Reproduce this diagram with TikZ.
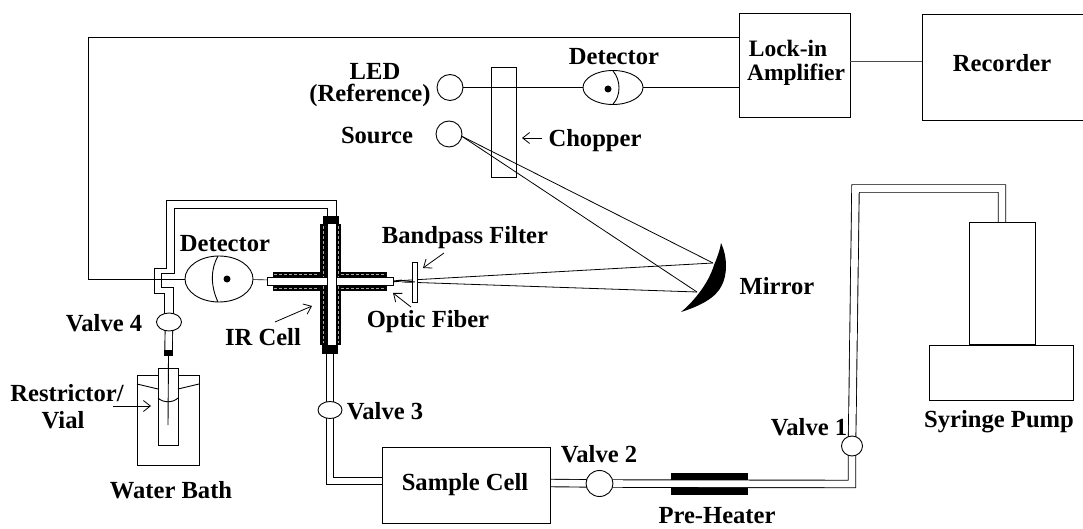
\documentclass[tikz,border=0pt]{standalone}
\usepackage{fontspec}
\setmainfont{Liberation Serif}
\usetikzlibrary{shapes.geometric,arrows.meta,backgrounds}
\tikzset{
  ink/.style={line width=0.9pt,black},
  lbl/.style={font=\fontsize{24.6}{28}\selectfont\bfseries,inner sep=0pt,align=center,text=black},
  lblsmall/.style={lbl,font=\fontsize{23.5}{28}\selectfont\bfseries},
  boxn/.style={draw,ink,fill=white,rectangle,inner sep=0pt,outer sep=0pt},
  valve/.style={draw,ink,fill=white,ellipse,inner sep=0pt,outer sep=0pt},
  blackn/.style={fill=black,rectangle,inner sep=0pt,outer sep=0pt},
  sleeve/.style={blackn},
  whitetube/.style={boxn},
  tube/.style={draw=black,line width=0.9pt,double=white,double distance=6.6pt,line join=miter},
  pointer/.style={ink,line width=0.8pt,-{Straight Barb[length=7pt,width=11pt]}},
  speck/.style={draw=black!35,line width=1pt,dash pattern=on 3pt off 2pt},
}
\begin{document}
\begin{tikzpicture}[x=1pt,y=-1pt]
\useasboundingbox (0,0) rectangle (1083,529);

% main boxes
\node[boxn,minimum width=111pt,minimum height=104pt] (lockin) at (794.5,65) {};
\node[boxn,minimum width=166pt,minimum height=106pt] (recorder) at (1005,67) {};
\node[lblsmall] at (788,48) (lockinA) {Lock-in};
\node[lblsmall] at (796,75) (lockinB) {Amplifier};
\node[lbl] at (1002,63) (recorderT) {Recorder};

% chopper
\node[draw,ink,rectangle,inner sep=0pt,outer sep=0pt,minimum width=25pt,minimum height=110pt] (chopper) at (503.5,122) {};
% reference branch
\node[valve,minimum width=26pt,minimum height=26pt] (led) at (450,87.5) {};
\node[valve,minimum width=26pt,minimum height=26pt] (source) at (449,134) {};
\node[valve,minimum width=60pt,minimum height=34pt] (det2) at (613,87.5) {};
\draw[ink] (613,71) .. controls (621,80) and (621,96) .. (613,104);
\fill (608,89) circle (3.5pt);
\draw[ink] (led) -- (det2);
\draw[ink] (det2) -- (lockin.west|-det2);

% mirror and rays
\fill[black] (721,243) .. controls (728,258) and (727,275) .. (722,285)
  .. controls (716,298) and (700,306) .. (681,312)
  .. controls (692,303) and (708,285) .. (714,265)
  .. controls (717,258) and (720,250) .. (721,243) -- cycle;
\coordinate (mirA) at (713,263);
\coordinate (mirB) at (697,292);
\coordinate (fibreA) at (402,280.5);
\coordinate (fibreB) at (402,282);
\draw[ink,line width=0.8pt] (source.-10) -- (mirA);
\draw[ink,line width=0.8pt] (source.-10) -- (mirB);
\draw[ink,line width=0.8pt] (fibreA) -- (mirA);
\draw[ink,line width=0.8pt] (fibreB) -- (mirB);

% filter
\node[boxn,minimum width=4.5pt,minimum height=40pt] (filter) at (415,282) {};
\draw[line width=1.8pt] (393,281.5) -- (fibreA);
\draw[ink] (fibreA) -- (filter.center);

% IR cell
\node[sleeve,minimum width=47pt,minimum height=5pt] (sA) at (296.5,274.5) {};
\node[sleeve,minimum width=47pt,minimum height=6pt] (sB) at (296.5,288) {};
\node[sleeve,minimum width=47pt,minimum height=5pt] (sC) at (363.5,274.5) {};
\node[sleeve,minimum width=47pt,minimum height=6pt] (sD) at (363.5,288) {};
\node[sleeve,minimum width=7.5pt,minimum height=120pt] (sE) at (323.5,284.5) {};
\node[sleeve,minimum width=5pt,minimum height=120pt] (sF) at (338.5,284.5) {};
\draw[speck] (323.5,226) -- (323.5,343);
\draw[speck,line width=.8pt] (338.5,226) -- (338.5,343);
\draw[speck] (274,274.5) -- (319,274.5);
\draw[speck] (341,274.5) -- (386,274.5);
\draw[speck] (274,288) -- (319,288);
\draw[speck] (341,288) -- (386,288);
\node[whitetube,minimum width=126pt,minimum height=8pt] (cellH) at (330,281) {};
\node[whitetube,minimum width=9pt,minimum height=122pt] (cellV) at (331.5,284.5) {};
\node[blackn,minimum width=16pt,minimum height=8pt] (capT) at (331,220) {};
\node[blackn,minimum width=16pt,minimum height=9pt] (capB) at (330,349.5) {};

% detector
\node[valve,minimum width=68pt,minimum height=46pt] (det1) at (219,279) {};
\draw[ink] (218,256) .. controls (211,268) and (210,285) .. (218,302);
\fill (227,279) circle (3.5pt);
\draw[ink,line width=0.6pt] (det1) -- (cellH);
\coordinate (sigA) at (88,279);
\coordinate (sigB) at (88,37);
\draw[ink,line width=0.8pt] (det1.west) -- (sigA) -- (sigB) -- (lockin.west|-sigB);
\draw[ink,line width=0.5pt,black!70] (lockin.east|-0,61) -- (recorder.west|-0,61);

% valves
\node[valve,minimum width=25pt,minimum height=18pt] (valve4) at (169,322) {};
\node[valve,minimum width=24pt,minimum height=17pt] (valve3) at (330,410) {};
\node[valve,minimum width=27pt,minimum height=26pt] (valve2) at (599.5,483.5) {};
\node[valve,minimum width=21pt,minimum height=20pt] (valve1) at (852,446) {};

% vial and bath
\node[boxn,minimum width=62pt,minimum height=90pt] (bath) at (168,420) {};
\node[boxn,minimum width=20pt,minimum height=77pt] (vial) at (168,406.5) {};
\node[blackn,minimum width=9pt,minimum height=6pt] (capV) at (168.5,353) {};
\coordinate (restrictorTip) at (168,425);
\draw[ink] (capV.south) -- (restrictorTip);
\draw[ink] (bath.west|-0,384) -- (vial.west|-0,389);
\draw[ink] (vial.east|-0,389) -- (bath.east|-0,384);
\draw[ink] (vial.west|-0,398) .. controls (163,403) and (173,403) .. (vial.east|-0,398);

% sample cell and syringe pump
\node[boxn,minimum width=168pt,minimum height=76pt] (sample) at (466,485) {};
\node[boxn,minimum width=66pt,minimum height=122pt] (pumpU) at (1002,283) {};
\node[boxn,minimum width=144pt,minimum height=55pt] (pumpL) at (1001,372.5) {};

% tubes on the layer below
\begin{pgfonlayer}{background}
\fill[white] (0,0) rectangle (1083,529);
\node[blackn,minimum width=77pt,minimum height=22pt] (heater) at (709.5,484) {};
\draw[tube] (capB.center) -- (valve3.center);
\draw[tube] (valve3.center) |- (sample.west|-0,481);
\draw[tube] (sample.east|-0,483) -- (valve2.center);
\draw[tube] (valve2.center) -- (852,484) -- (valve1.center);
\draw[tube] (valve1.center) -- (855.5,188.5) -- (1002,188.5) -- (pumpU.north);
\draw[tube] (valve4.center) -- (capV.center);
\draw[ink] (capT.center -| 336,0) -- (336,200) -- (166,200) -- (166,268) -- (154,268) -- (154,293) -- (164,293) -- (valve4.center -| 164,0);
\draw[ink] (capT.center -| 327,0) -- (327,208) -- (174,208) -- (174,273) -- (161,273) -- (161,287) -- (173,287) -- (valve4.center -| 173,0);
\end{pgfonlayer}

% pointer arrows
\coordinate (pRestS) at (113,406); \coordinate (pRestE) at (151,406);
\coordinate (pIrS) at (275,322);   \coordinate (pIrE) at (312,306);
\coordinate (pBandS) at (444,253); \coordinate (pBandE) at (423,268);
\coordinate (pOptS) at (411,307);  \coordinate (pOptE) at (393,293);
\coordinate (pChopS) at (542,138); \coordinate (pChopE) at (522,138);
\draw[pointer] (pRestS) -- (pRestE);
\draw[pointer] (pIrS) -- (pIrE);
\draw[pointer] (pBandS) -- (pBandE);
\draw[pointer] (pOptS) -- (pOptE);
\draw[pointer] (pChopS) -- (pChopE);

% labels
\node[lbl] (tDet2) at (614,57) {Detector};
\node[lbl] (tLed) at (375,71) {LED};
\node[lbl] (tRef) at (370,95.5) {(Reference)};
\node[lbl] (tSource) at (377,136) {Source};
\node[lbl] (tChop) at (595,141) {Chopper};
\node[lbl] (tBand) at (465,238) {Bandpass Filter};
\node[lbl] (tOpt) at (428,322) {Optic Fiber};
\node[lbl] (tMirror) at (777,286) {Mirror};
\node[lbl] (tDet1) at (225,244) {Detector};
\node[lbl] (tV4) at (104,323) {Valve 4};
\node[lbl] (tIr) at (263,337) {IR Cell};
\node[lbl] (tV3) at (385,411) {Valve 3};
\node[lbl] (tRest) at (67,393) {Restrictor/};
\node[lbl] (tVial) at (63,420) {Vial};
\node[lbl] (tBath) at (171,490) {Water Bath};
\node[lbl] (tSample) at (465,485) {Sample Cell};
\node[lbl] (tV2) at (599,454) {Valve 2};
\node[lbl] (tHeat) at (717,516) {Pre-Heater};
\node[lbl] (tV1) at (809,427) {Valve 1};
\node[lbl] (tPump) at (999,422) {Syringe Pump};
\end{tikzpicture}
\end{document}
